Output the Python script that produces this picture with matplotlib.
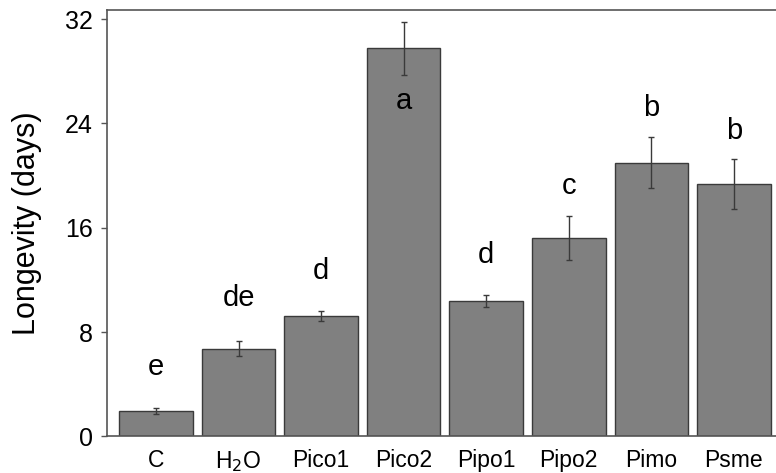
import matplotlib
matplotlib.use("Agg")
import matplotlib.pyplot as plt
import numpy as np

plt.rcParams['font.family'] = ['Liberation Sans', 'DejaVu Sans']

# data
treatments = ["C", "H$_2$O", "Pico1", "Pico2", "Pipo1", "Pipo2", "Pimo", "Psme"]
longevity = [1.94, 6.74, 9.22, 29.76, 10.42, 15.22, 21.0, 19.33]
se = [0.25, 0.57, 0.4, 2.02, 0.46, 1.66, 1.98, 1.92]
letters = ["e", "de", "d", "a", "d", "c", "b", "b"]
letter_y = [5.36, 10.65, 12.7, 25.7, 13.9, 19.2, 25.2, 23.4]

fig = plt.figure(figsize=(7.76, 4.73), dpi=100)
ax = fig.add_axes([0.1379, 0.0772, 0.8621, 0.9017])

x = np.arange(len(treatments))
ax.bar(x, longevity, width=0.89, color='#808080', edgecolor='#3a3a3a', linewidth=1.0)
ax.errorbar(x, longevity, yerr=se, fmt='none', ecolor='#3a3a3a', elinewidth=1.0,
            capsize=2.5, capthick=1.0)

for xi, lab, ly in zip(x, letters, letter_y):
    ax.text(xi, ly, lab, ha='center', va='center', fontsize=21, color='black')

ax.set_xlim(-0.593, 7.51)
ax.set_ylim(0, 32.7)
ax.set_yticks([0, 8, 16, 24, 32])
ax.set_xticks(x)
ax.set_xticklabels(treatments)
ax.tick_params(axis='y', labelsize=18, length=4, width=1, color='#555555', pad=6)
ax.tick_params(axis='x', labelsize=16.5, length=0, pad=9)
ax.set_ylabel("Longevity (days)", fontsize=22, labelpad=17)

for s in ['left', 'top', 'bottom']:
    ax.spines[s].set_color('#555555')
    ax.spines[s].set_linewidth(1.2)
ax.spines['right'].set_visible(False)

plt.savefig("out.png", dpi=100)
